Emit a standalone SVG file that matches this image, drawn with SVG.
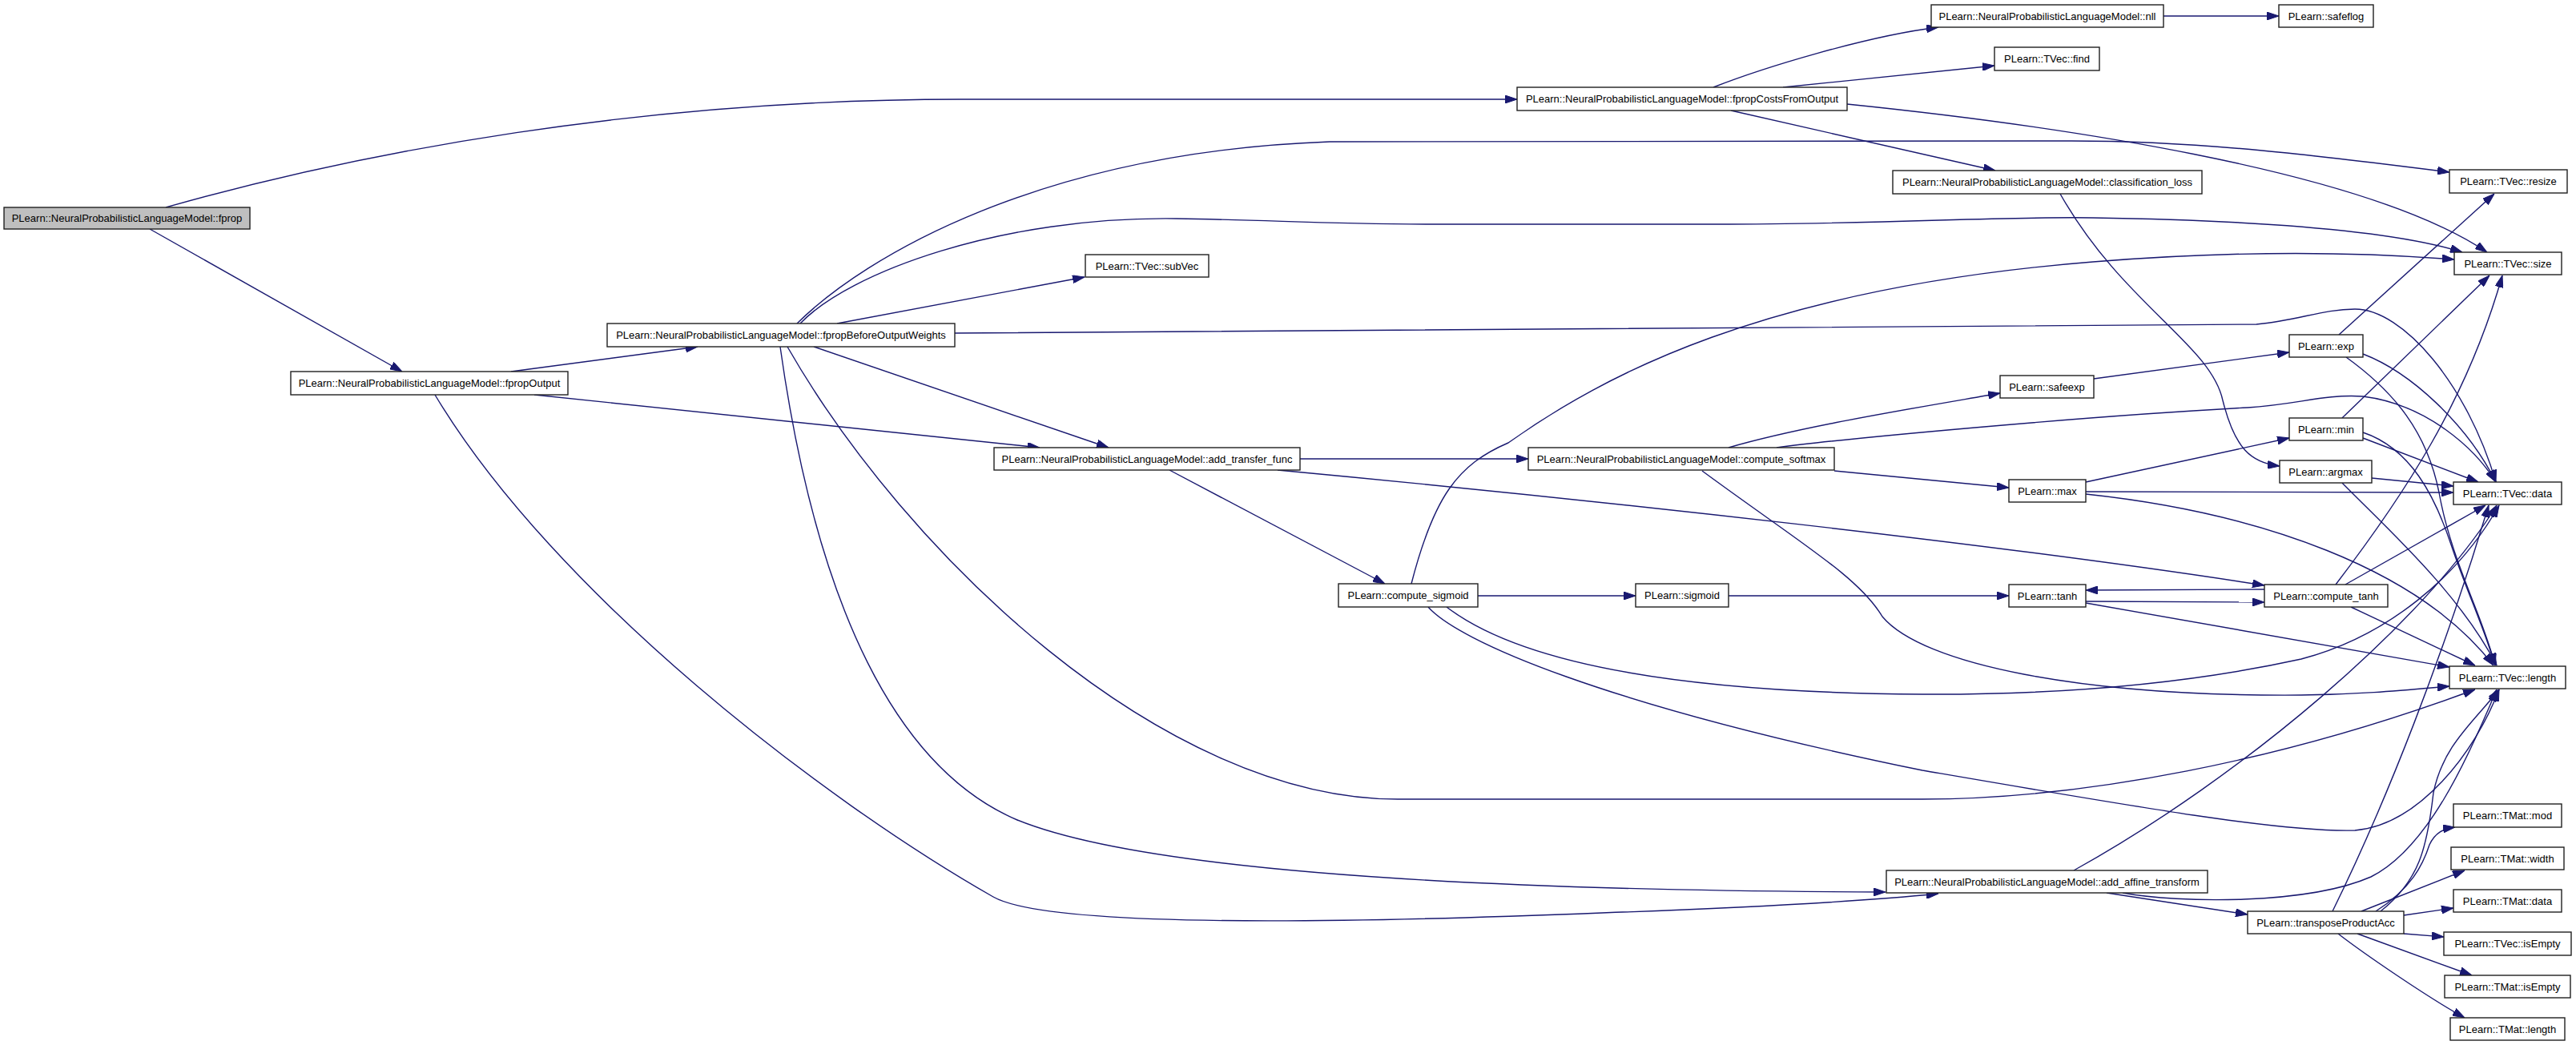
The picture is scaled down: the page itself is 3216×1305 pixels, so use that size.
<svg xmlns="http://www.w3.org/2000/svg" width="3216" height="1305" viewBox="0 0 3216 1305">
<defs>
<style>
.n rect{fill:#ffffff;stroke:#202020;stroke-width:1.4}
.root rect{fill:#bfbfbf}
.n text{font-family:"Liberation Sans",Arial,sans-serif;font-size:13px;text-anchor:middle;fill:#000}
#connectors path{fill:none;stroke:#191970;stroke-width:1.4;marker-end:url(#arr)}
</style>
<marker id="arr" markerWidth="15" markerHeight="10" refX="15" refY="5" orient="auto" markerUnits="userSpaceOnUse">
<path d="M0,0 L15,5 L0,10 z" fill="#191970" stroke="#191970" stroke-width="1"/>
</marker>
</defs>
<rect x="0" y="0" width="3216" height="1305" fill="#ffffff"/>
<g id="connectors">
<path d="M207,259 C450,190 800,124 1200,124 L1894,124"/>
<path d="M187,286 L502,464"/>
<path d="M638,464 L871,433"/>
<path d="M667,493 L1298,559"/>
<path d="M543,493 C693,743 1029,1000 1240,1120 C1310,1160 1700,1152 2000,1140 C2200,1133 2330,1125 2420,1116"/>
<path d="M974,433 C1020,760 1120,960 1270,1024 C1420,1085 1800,1112 2354,1114"/>
<path d="M983,433 C1130,690 1450,998 1745,998 L2400,998 C2600,998 2850,950 3090,861"/>
<path d="M1016,433 L1384,559"/>
<path d="M1045,404 L1354,346"/>
<path d="M995,404 C1080,320 1300,190 1660,177 L2586,176 C2750,176 2900,195 3058,215"/>
<path d="M999,404 C1060,340 1250,270 1469,273 C1600,275 1650,280 1800,280 L2143,280 C2350,280 2500,270 2613,272 C2800,275 2980,285 3074,315"/>
<path d="M1192,416 L2817,405 C2870,400 2900,386 2940,386 C3000,386 3080,480 3116,602"/>
<path d="M2139,109 C2200,85 2330,45 2420,34"/>
<path d="M2226,109 L2490,82"/>
<path d="M2161,138 L2491,213"/>
<path d="M2306,130 C2550,155 2950,210 3105,315"/>
<path d="M2701,20 L2845,20"/>
<path d="M2572,242 C2650,380 2760,430 2775,500 C2790,560 2810,578 2846,582"/>
<path d="M1762,729 C1790,620 1820,580 1883,553 C2000,470 2200,360 2613,327 C2800,312 2950,315 3064,324"/>
<path d="M1623,573 L1908,573"/>
<path d="M1460,587 L1729,729"/>
<path d="M1595,587 C2000,625 2500,680 2827,731"/>
<path d="M2158,559 C2250,532 2400,508 2497,491"/>
<path d="M2218,559 C2300,548 2600,520 2806,509 C2870,505 2900,492 2950,495 C3030,505 3090,560 3116,602"/>
<path d="M2290,588 L2508,609"/>
<path d="M2125,588 C2250,680 2320,720 2350,770 C2400,830 2600,870 2873,868 C2950,867 3000,862 3058,857"/>
<path d="M1845,744 L2042,744"/>
<path d="M2158,744 L2508,744"/>
<path d="M1783,758 C1820,800 2000,880 2400,962 C2650,1005 2850,1040 2940,1037 C3020,1030 3090,940 3120,861"/>
<path d="M1806,758 C1900,830 2100,865 2400,867 C2600,868 2750,850 2873,823 C2980,795 3070,720 3120,631"/>
<path d="M2589,1087 C2800,970 3027,777 3117,631"/>
<path d="M2650,1115 C2720,1128 2880,1130 2960,1095 C3030,1060 3080,950 3117,861"/>
<path d="M2630,1115 L2806,1142"/>
<path d="M2827,736 L2604,737"/>
<path d="M2604,751 L2827,752"/>
<path d="M2604,753 L3058,833"/>
<path d="M2935,758 L3090,831"/>
<path d="M2928,730 L3103,631"/>
<path d="M2916,730 C3000,620 3080,500 3124,344"/>
<path d="M2924,522 L3108,344"/>
<path d="M2950,547 L3094,602"/>
<path d="M2950,540 C3010,560 3040,620 3060,680 C3080,740 3100,780 3115,831"/>
<path d="M2950,442 C3010,465 3080,530 3116,602"/>
<path d="M2929,446 C2990,490 3030,540 3045,615 C3060,700 3100,770 3115,831"/>
<path d="M2920,418 L3114,242"/>
<path d="M2614,473 L2858,440"/>
<path d="M2604,602 L2858,547"/>
<path d="M2604,614 L3063,615"/>
<path d="M2604,617 C2820,640 3020,710 3113,831"/>
<path d="M2961,597 L3063,607"/>
<path d="M2924,603 C2980,660 3070,740 3117,831"/>
<path d="M2966,1138 C3010,1110 3025,1080 3033,1055 C3040,1040 3050,1035 3065,1033"/>
<path d="M2948,1138 L3077,1087"/>
<path d="M3001,1143 L3063,1134"/>
<path d="M3001,1166 L3051,1170"/>
<path d="M2943,1166 L3086,1218"/>
<path d="M2919,1166 C2950,1190 3030,1245 3077,1271"/>
<path d="M2972,1138 C3020,1100 3030,1060 3038,990 C3050,930 3090,900 3120,861"/>
<path d="M2912,1138 C2980,1000 3050,820 3107,631"/>
</g>
<g id="node-fprop" class="n root"><rect x="5" y="259" width="307" height="27"/><text x="158.5" y="277">PLearn::NeuralProbabilisticLanguageModel::fprop</text></g>
<g id="node-fpropOutput" class="n"><rect x="363" y="464" width="346" height="29"/><text x="536" y="483">PLearn::NeuralProbabilisticLanguageModel::fpropOutput</text></g>
<g id="node-fpropBeforeOutputWeights" class="n"><rect x="758" y="404" width="434" height="29"/><text x="975" y="423">PLearn::NeuralProbabilisticLanguageModel::fpropBeforeOutputWeights</text></g>
<g id="node-fpropCostsFromOutput" class="n"><rect x="1894" y="109" width="412" height="29"/><text x="2100" y="128">PLearn::NeuralProbabilisticLanguageModel::fpropCostsFromOutput</text></g>
<g id="node-nll" class="n"><rect x="2411" y="6" width="290" height="28"/><text x="2556" y="24.5">PLearn::NeuralProbabilisticLanguageModel::nll</text></g>
<g id="node-safeflog" class="n"><rect x="2845" y="6" width="118" height="28"/><text x="2904" y="24.5">PLearn::safeflog</text></g>
<g id="node-find" class="n"><rect x="2490" y="59" width="131" height="29"/><text x="2555.5" y="78">PLearn::TVec::find</text></g>
<g id="node-classification_loss" class="n"><rect x="2363" y="213" width="386" height="29"/><text x="2556" y="232">PLearn::NeuralProbabilisticLanguageModel::classification_loss</text></g>
<g id="node-resize" class="n"><rect x="3058" y="212" width="147" height="29"/><text x="3131.5" y="231">PLearn::TVec::resize</text></g>
<g id="node-size" class="n"><rect x="3064" y="315" width="134" height="28"/><text x="3131" y="333.5">PLearn::TVec::size</text></g>
<g id="node-subVec" class="n"><rect x="1355" y="318" width="154" height="28"/><text x="1432" y="336.5">PLearn::TVec::subVec</text></g>
<g id="node-add_transfer_func" class="n"><rect x="1241" y="559" width="382" height="28"/><text x="1432" y="577.5">PLearn::NeuralProbabilisticLanguageModel::add_transfer_func</text></g>
<g id="node-compute_softmax" class="n"><rect x="1908" y="559" width="382" height="28"/><text x="2099" y="577.5">PLearn::NeuralProbabilisticLanguageModel::compute_softmax</text></g>
<g id="node-safeexp" class="n"><rect x="2497" y="469" width="117" height="28"/><text x="2555.5" y="487.5">PLearn::safeexp</text></g>
<g id="node-exp" class="n"><rect x="2858" y="418" width="92" height="28"/><text x="2904" y="436.5">PLearn::exp</text></g>
<g id="node-min" class="n"><rect x="2858" y="522" width="92" height="28"/><text x="2904" y="540.5">PLearn::min</text></g>
<g id="node-argmax" class="n"><rect x="2846" y="575" width="115" height="28"/><text x="2903.5" y="593.5">PLearn::argmax</text></g>
<g id="node-max" class="n"><rect x="2508" y="599" width="96" height="28"/><text x="2556" y="617.5">PLearn::max</text></g>
<g id="node-TVec-data" class="n"><rect x="3063" y="602" width="135" height="28"/><text x="3130.5" y="620.5">PLearn::TVec::data</text></g>
<g id="node-compute_sigmoid" class="n"><rect x="1671" y="729" width="174" height="29"/><text x="1758" y="748">PLearn::compute_sigmoid</text></g>
<g id="node-sigmoid" class="n"><rect x="2042" y="729" width="116" height="29"/><text x="2100" y="748">PLearn::sigmoid</text></g>
<g id="node-tanh" class="n"><rect x="2508" y="730" width="96" height="28"/><text x="2556" y="748.5">PLearn::tanh</text></g>
<g id="node-compute_tanh" class="n"><rect x="2827" y="730" width="154" height="28"/><text x="2904" y="748.5">PLearn::compute_tanh</text></g>
<g id="node-TVec-length" class="n"><rect x="3058" y="832" width="145" height="28"/><text x="3130.5" y="850.5">PLearn::TVec::length</text></g>
<g id="node-add_affine_transform" class="n"><rect x="2355" y="1087" width="401" height="28"/><text x="2555.5" y="1105.5">PLearn::NeuralProbabilisticLanguageModel::add_affine_transform</text></g>
<g id="node-transposeProductAcc" class="n"><rect x="2806" y="1138" width="195" height="28"/><text x="2903.5" y="1156.5">PLearn::transposeProductAcc</text></g>
<g id="node-TMat-mod" class="n"><rect x="3063" y="1004" width="135" height="29"/><text x="3130.5" y="1023">PLearn::TMat::mod</text></g>
<g id="node-TMat-width" class="n"><rect x="3060" y="1058" width="141" height="28"/><text x="3130.5" y="1076.5">PLearn::TMat::width</text></g>
<g id="node-TMat-data" class="n"><rect x="3063" y="1111" width="135" height="28"/><text x="3130.5" y="1129.5">PLearn::TMat::data</text></g>
<g id="node-TVec-isEmpty" class="n"><rect x="3051" y="1164" width="159" height="29"/><text x="3130.5" y="1183">PLearn::TVec::isEmpty</text></g>
<g id="node-TMat-isEmpty" class="n"><rect x="3052" y="1218" width="157" height="28"/><text x="3130.5" y="1236.5">PLearn::TMat::isEmpty</text></g>
<g id="node-TMat-length" class="n"><rect x="3059" y="1271" width="143" height="28"/><text x="3130.5" y="1289.5">PLearn::TMat::length</text></g>
</svg>
